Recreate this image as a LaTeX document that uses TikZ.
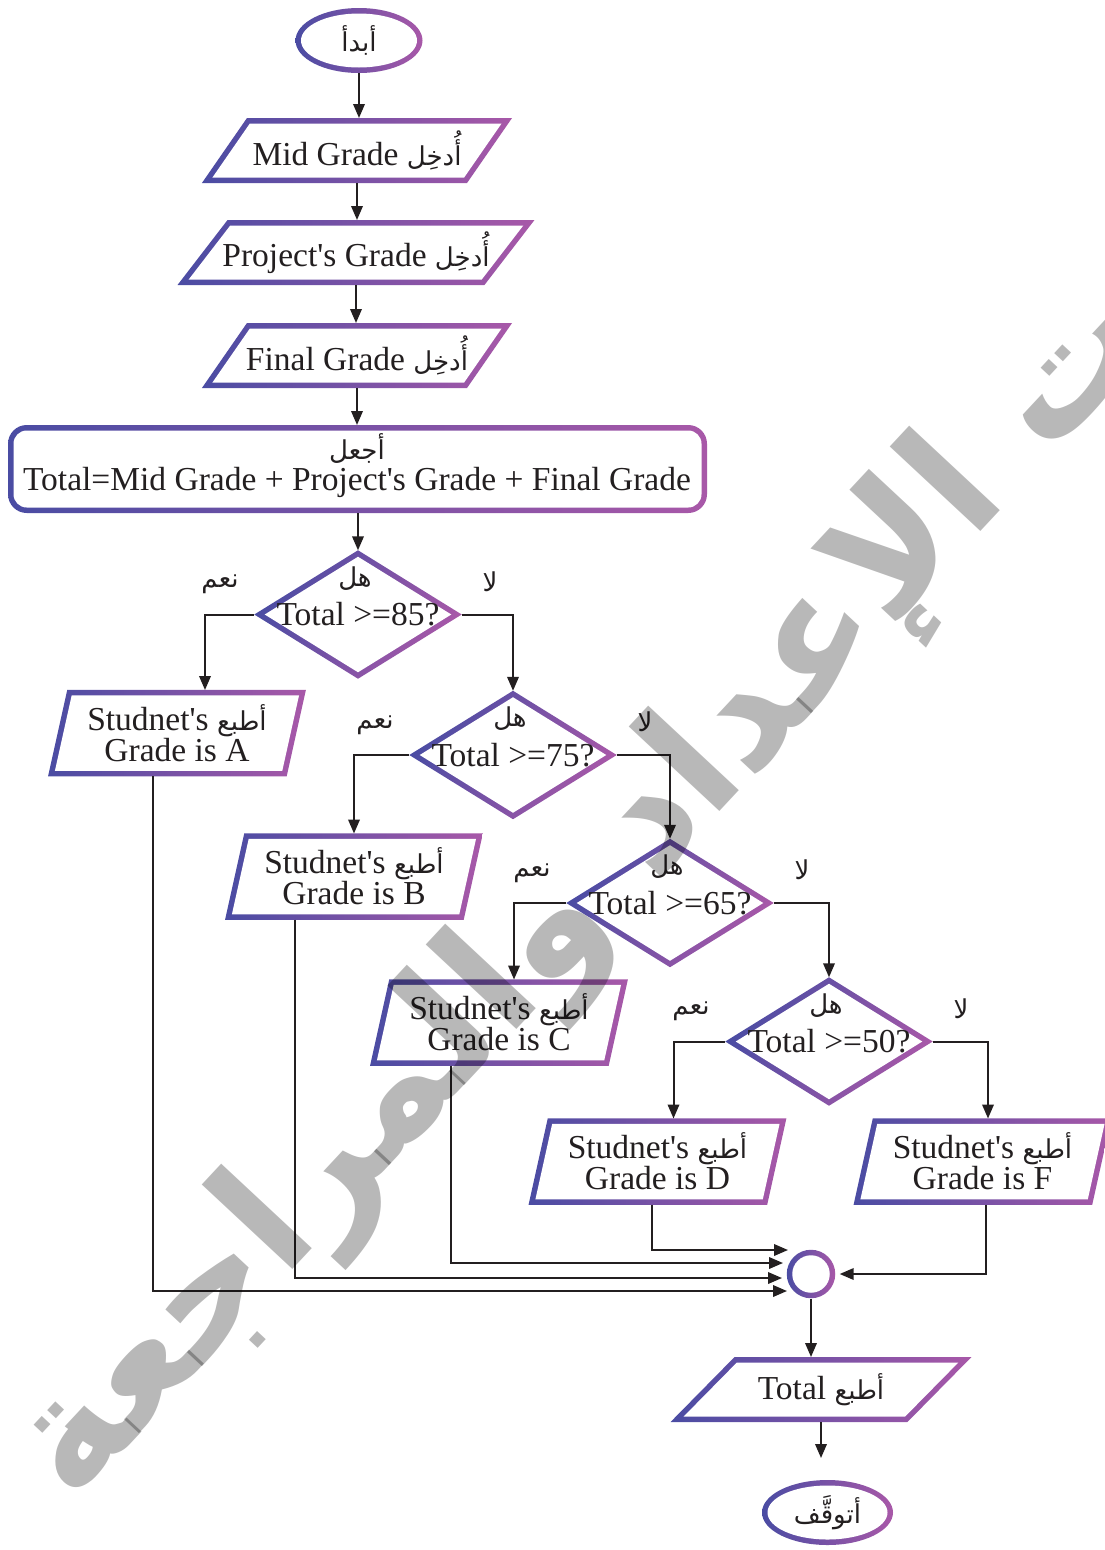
\documentclass[tikz,border=0pt]{standalone}
\usepackage{fontspec}
\usepackage{graphicx}
\setmainfont[Ligatures=TeXOff]{Liberation Serif}
\newfontfamily\ar[Script=Arabic]{DejaVu Sans}
\TeXXeTstate=1
\usetikzlibrary{arrows.meta}
\definecolor{cA}{RGB}{74,76,163}
\definecolor{cB}{RGB}{168,88,168}
\definecolor{ink}{RGB}{35,31,32}

\newcommand\arw[1]{{\ar\fontsize{26}{26}\selectfont\beginR #1\endR}}
\newcommand\lat{\fontsize{33.5}{31}\selectfont}
\def\bw{2.75}

\pgfdeclarelayer{back}
\pgfsetlayers{back,main}

% parallelogram outline: node, half width, half height, half slant (centre line)
\newcommand\paraborder[4]{%
  \pgfmathsetmacro\pL{sqrt((#3)*(#3)+(#4)*(#4))}%
  \pgfmathsetmacro\pHo{#3+\bw}%
  \pgfmathsetmacro\pHi{#3-\bw}%
  \pgfmathsetmacro\pAo{(#4)*\pHo/(#3)}%
  \pgfmathsetmacro\pAi{(#4)*\pHi/(#3)}%
  \pgfmathsetmacro\pB{\bw*\pL/(#3)}%
  \shade[gradh, shift={(#1.center)}] ({#2+\pAo+\pB},-\pHo) -- ({#2-\pAo+\pB},\pHo)
     -- ({-#2-\pAo-\pB},\pHo) -- ({-#2+\pAo-\pB},-\pHo) -- cycle;
  \fill[white, shift={(#1.center)}] ({#2+\pAi-\pB},-\pHi) -- ({#2-\pAi-\pB},\pHi)
     -- ({-#2-\pAi+\pB},\pHi) -- ({-#2+\pAi+\pB},-\pHi) -- cycle;
}
% diamond outline: node, half width, half height (centre line)
\newcommand\diaborder[3]{%
  \pgfmathsetmacro\dL{sqrt((#2)*(#2)+(#3)*(#3))}%
  \pgfmathsetmacro\dX{\bw*\dL/(#3)}%
  \pgfmathsetmacro\dY{\bw*\dL/(#2)}%
  \shade[gradd, shift={(#1.center)}] ({-#2-\dX},0) -- (0,{-#3-\dY}) -- ({#2+\dX},0) -- (0,{#3+\dY}) -- cycle;
  \fill[white, shift={(#1.center)}] ({-#2+\dX},0) -- (0,{-#3+\dY}) -- ({#2-\dX},0) -- (0,{#3-\dY}) -- cycle;
}
% ellipse outline: node, x radius, y radius (centre line)
\newcommand\ellborder[3]{%
  \shade[gradh] (#1.center) ellipse [x radius={#2+\bw}, y radius={#3+\bw}];
  \fill[white] (#1.center) ellipse [x radius={#2-\bw}, y radius={#3-\bw}];
}
% rounded rectangle outline: node, half width, half height, corner radius
\newcommand\rrborder[4]{%
  \pgfmathsetmacro\rO{#4+\bw}%
  \pgfmathsetmacro\rI{#4-\bw}%
  \shade[gradh, rounded corners=\rO pt] ([shift={({-#2-\bw},{-#3-\bw})}]#1.center) rectangle ([shift={({#2+\bw},{#3+\bw})}]#1.center);
  \fill[white, rounded corners=\rI pt] ([shift={({-#2+\bw},{-#3+\bw})}]#1.center) rectangle ([shift={({#2-\bw},{#3-\bw})}]#1.center);
}

\tikzset{
  box/.style={rectangle, draw=none, inner sep=0pt, outer sep=0pt, font=\lat, align=center, text=ink},
  txt/.style={inner sep=0pt, outer sep=0pt, font=\lat, text=ink},
  conn/.style={line width=2pt, draw=ink, -{Triangle[length=14pt,width=11.5pt]}},
  gradh/.style={left color=cA, right color=cB},
  gradd/.style={top color=cA, bottom color=cB, shading angle=60},
}

\begin{document}
\begin{tikzpicture}[x=1pt, y=-1pt]
\useasboundingbox (0,0) rectangle (1105,1550);

% ---- shapes with their texts
\node[box, minimum width=127pt, minimum height=65pt] (start) at (359,40.5) {\arw{أبدأ}};
\node[box, minimum width=200pt, minimum height=65pt] (p1) at (357,150.5) {Mid Grade \arw{أُدخِل}};
\node[box, minimum width=200pt, minimum height=65pt] (p2) at (356,252.5) {Project's Grade \arw{أُدخِل}};
\node[box, minimum width=200pt, minimum height=65pt] (p3) at (357,355.5) {Final Grade \arw{أُدخِل}};
\node[box, minimum width=699pt, minimum height=88pt] (calc) at (357.5,469) {};
\node[txt] (calcar) at (357,448) {\arw{أجعل}};
\node[txt] (calceq) at (357,482) {Total=Mid Grade + Project's Grade + Final Grade};

\node[box, minimum width=207.4pt, minimum height=128.4pt] (d1) at (358,614.5) {Total >=85?};
\node[box, minimum width=207.4pt, minimum height=128.4pt] (d2) at (513,755) {Total >=75?};
\node[box, minimum width=207.4pt, minimum height=128.4pt] (d3) at (670,903) {Total >=65?};
\node[box, minimum width=207.4pt, minimum height=128.4pt] (d4) at (829,1041.5) {Total >=50?};
\foreach \d in {d1,d2,d3,d4}{
  \node[txt] (\d q) at ([shift={(-3,-36)}]\d.center) {\arw{هل}};
  \node[txt] (\d y) at ([shift={(-138,-30)}]\d.center) {\arw{نعم}};
  \node[txt] (\d n) at ([shift={(132,-33)}]\d.center) {\arw{لا}};
}

\node[box, minimum width=200pt, minimum height=86pt] (pa) at (177,733) {Studnet's \arw{أطبع}\\Grade is A};
\node[box, minimum width=200pt, minimum height=86pt] (pb) at (354,876.5) {Studnet's \arw{أطبع}\\Grade is B};
\node[box, minimum width=200pt, minimum height=86pt] (pc) at (499,1022.5) {Studnet's \arw{أطبع}\\Grade is C};
\node[box, minimum width=200pt, minimum height=86pt] (pd) at (657.5,1161.5) {Studnet's \arw{أطبع}\\Grade is D};
\node[box, minimum width=200pt, minimum height=86pt] (pf) at (982.5,1161.5) {Studnet's \arw{أطبع}\\Grade is F};

\node[circle, draw=none, inner sep=0pt, minimum size=49pt] (cc) at (811,1274) {};
\node[box, minimum width=200pt, minimum height=65pt] (pt) at (821,1389.5) {Total \arw{أطبع}};
\node[box, minimum width=131pt, minimum height=65pt] (stop) at (827.5,1512.5) {\arw{أتوقَّف}};

% ---- gradient outlines
\begin{pgfonlayer}{back}
  \ellborder{start}{60.75}{29.75}
  \paraborder{p1}{129.2}{29.75}{20.6}
  \paraborder{p2}{150}{29.75}{22.9}
  \paraborder{p3}{129.2}{29.75}{20.6}
  \rrborder{calc}{346.75}{41.25}{16}
  \diaborder{d1}{98.5}{61}
  \diaborder{d2}{98.5}{61}
  \diaborder{d3}{98.5}{61}
  \diaborder{d4}{98.5}{61}
  \paraborder{pa}{116.5}{40.5}{9}
  \paraborder{pb}{116.5}{40.5}{9}
  \paraborder{pc}{116.5}{40.5}{9}
  \paraborder{pd}{116.5}{40.5}{9}
  \paraborder{pf}{116.5}{40.5}{9}
  \ellborder{cc}{21.5}{21.5}
  \paraborder{pt}{114.6}{29.75}{29.3}
  \ellborder{stop}{62.75}{29.75}
\end{pgfonlayer}

% ---- connectors
\draw[conn] (start.south) -- (start.south |- p1.north);
\draw[conn] (p1.south) -- (p1.south |- p2.north);
\draw[conn] (p2.south) -- (p2.south |- p3.north);
\draw[conn] (p3.south) -- (p3.south |- calc.north);
\draw[conn] (calc.south -| d1.north) -- (d1.north);

\draw[conn] (d1.west) -| ([xshift=28pt]pa.north);
\draw[conn] (d1.east) -| (d2.north);
\draw[conn] (d2.west) -| (pb.north);
\draw[conn] (d2.east) -| (d3.north);
\draw[conn] (d3.west) -| ([xshift=15pt]pc.north);
\draw[conn] (d3.east) -| (d4.north);
\draw[conn] (d4.west) -| ([xshift=16pt]pd.north);
\draw[conn] (d4.east) -| ([xshift=5.5pt]pf.north);

\draw[conn] ([xshift=-24pt]pa.south) |- ([shift={(-24,17)}]cc.center);
\draw[conn] ([xshift=-59pt]pb.south) |- ([shift={(-29,4)}]cc.center);
\draw[conn] ([xshift=-48pt]pc.south) |- ([shift={(-28,-11)}]cc.center);
\draw[conn] ([xshift=-5.5pt]pd.south) |- ([shift={(-23,-24)}]cc.center);
\draw[conn] ([xshift=3.5pt]pf.south) |- ([xshift=4pt]cc.east);
\draw[conn] (cc.south) -- (cc.south |- pt.north);
\draw[conn, shorten >=22pt] (pt.south) -- (pt.south |- stop.north);

% ---- diagonal watermark
\node[inner sep=0pt, rotate=47, text=black, text opacity=0.28] (wm) at (650,825)
  {\resizebox{1780pt}{!}{\ar\bfseries\beginR تحت الإعداد والمراجعة\endR}};
\end{tikzpicture}
\end{document}
